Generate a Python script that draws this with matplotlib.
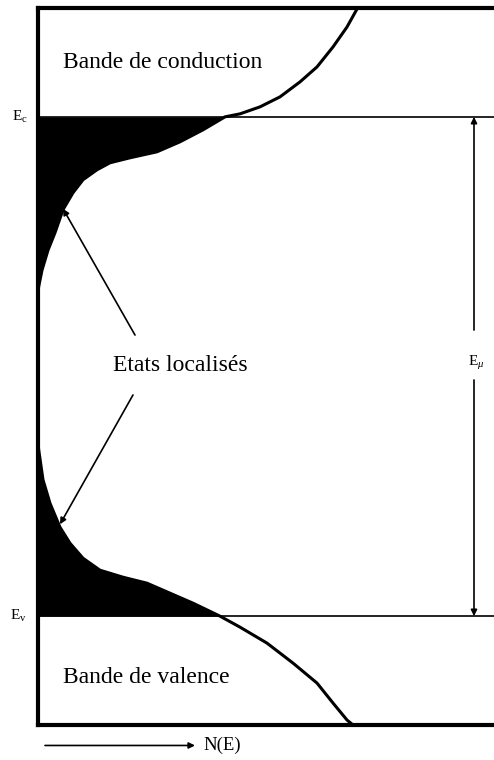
import numpy as np
import matplotlib
matplotlib.use("Agg")
import matplotlib.pyplot as plt

plt.rcParams["font.family"] = ["Liberation Serif", "DejaVu Serif"]
plt.rcParams["mathtext.fontset"] = "custom"
plt.rcParams["mathtext.rm"] = "Liberation Serif"
plt.rcParams["mathtext.it"] = "Liberation Serif:italic"

# density of states N(E), arbitrary units; energy with Ev = 0 and Ec = 1
E_c = 1.0
E_v = 0.0
cond_E = np.array([1.216, 1.180, 1.140, 1.100, 1.070, 1.040, 1.020, 1.006,
                   1.000, 0.974, 0.950, 0.930, 0.918, 0.908, 0.894, 0.874,
                   0.848, 0.814, 0.768, 0.733, 0.693, 0.653])
cond_N = np.array([3.19, 3.09, 2.95, 2.79, 2.62, 2.42, 2.22, 2.02,
                   1.87, 1.65, 1.42, 1.19, 0.92, 0.72, 0.59, 0.45,
                   0.35, 0.25, 0.17, 0.10, 0.04, 0.0])
val_E = np.array([0.343, 0.273, 0.226, 0.178, 0.146, 0.116, 0.092, 0.078,
                  0.066, 0.046, 0.026, 0.0, -0.022, -0.054, -0.094, -0.134,
                  -0.174, -0.208, -0.218])
val_N = np.array([0.0, 0.05, 0.12, 0.22, 0.32, 0.45, 0.62, 0.85,
                  1.09, 1.32, 1.55, 1.82, 2.02, 2.29, 2.55, 2.79,
                  2.95, 3.09, 3.15])

band_labels = ["Bande de conduction", "Bande de valence"]
tail_label = "Etats localisés"
axis_label = "N(E)"

fig = plt.figure(figsize=(4.94, 7.6), dpi=100)
ax = fig.add_axes([38 / 494, 35 / 760, 456 / 494, 717 / 760])
ax.set_xlim(0, 4.56)
ax.set_ylim(-0.218, 1.218)
ax.set_xticks([])
ax.set_yticks([])
for side in ["left", "top", "bottom"]:
    ax.spines[side].set_linewidth(3)
ax.spines["right"].set_visible(False)

# band edges
ax.axhline(E_c, color="black", lw=1.2)
ax.axhline(E_v, color="black", lw=1.2)

# DOS curves and localized tails
ax.plot(cond_N, cond_E, color="black", lw=2.2, solid_joinstyle="round")
ax.plot(val_N, val_E, color="black", lw=2.2, solid_joinstyle="round")
m = cond_E <= E_c
ax.fill_betweenx(cond_E[m], 0, cond_N[m], color="black", lw=0)
m = val_E >= E_v
ax.fill_betweenx(val_E[m], 0, val_N[m], color="black", lw=0)

# labels
ax.text(0.25, 1.108, band_labels[0], fontsize=17, va="center", ha="left")
ax.text(0.25, -0.122, band_labels[1], fontsize=17, va="center", ha="left")
ax.text(0.75, 0.503, tail_label, fontsize=17, va="center", ha="left")

ax.text(-0.18, E_c, r"$\mathrm{E}_{\mathrm{c}}$", fontsize=11,
        ha="center", va="center", clip_on=False)
ax.text(-0.2, E_v, r"$\mathrm{E}_{\mathrm{v}}$", fontsize=11,
        ha="center", va="center", clip_on=False)

# arrows to the tail states
arrow = dict(arrowstyle="-|>", color="black", lw=1.2, mutation_scale=9,
             shrinkA=0, shrinkB=0)
ax.annotate("", xy=(0.25, 0.816), xytext=(0.97, 0.563), arrowprops=arrow)
ax.annotate("", xy=(0.22, 0.184), xytext=(0.95, 0.443), arrowprops=arrow)

# mobility gap
x_gap = 4.36
ax.annotate("", xy=(x_gap, E_c), xytext=(x_gap, 0.573), arrowprops=arrow)
ax.annotate("", xy=(x_gap, E_v), xytext=(x_gap, 0.473), arrowprops=arrow)
ax.text(4.38, 0.507, r"$\mathrm{E}_{\mu}$", fontsize=11,
        ha="center", va="center")

# N(E) axis arrow below the frame
ax.annotate("", xy=(1.57, -0.259), xytext=(0.07, -0.259),
            arrowprops=arrow, annotation_clip=False)
ax.text(1.65, -0.259, axis_label, fontsize=13.5, ha="left", va="center",
        clip_on=False)

fig.savefig("out.png", dpi=100)
